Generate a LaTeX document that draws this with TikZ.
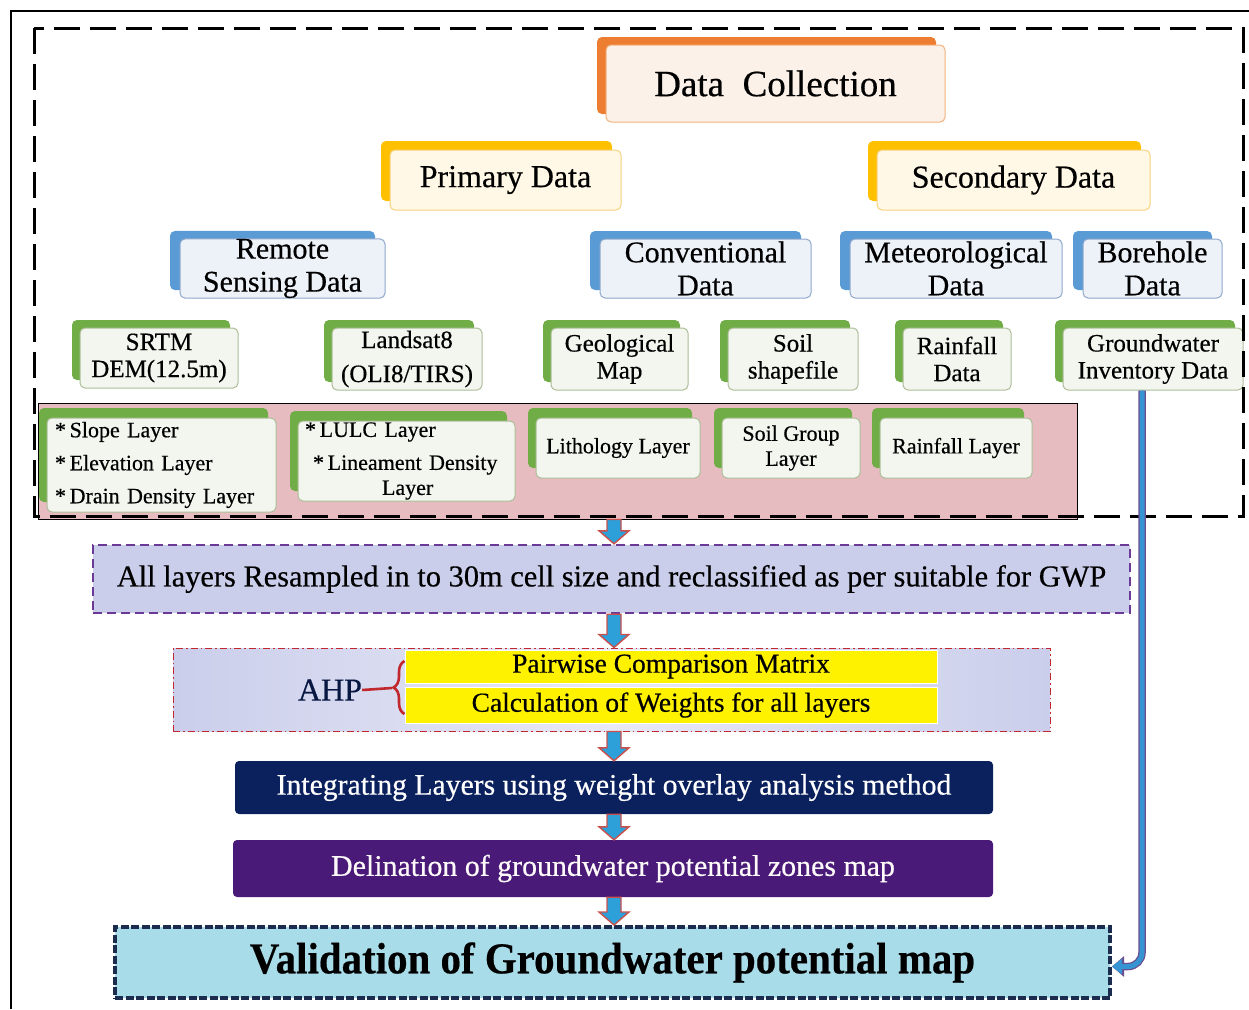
\documentclass[tikz,border=0pt]{standalone}
\usepackage{graphicx}
\usepackage{fontspec}
\setmainfont{Liberation Serif}[FakeBold=0.45]
\usetikzlibrary{shadows,backgrounds,calc,decorations.pathreplacing,arrows.meta}

% tier colours
\definecolor{backO}{HTML}{ED7D31}
\definecolor{frontO}{HTML}{FBF1E8}
\definecolor{edgeO}{HTML}{F2B27E}
\definecolor{backY}{HTML}{FFC000}
\definecolor{frontY}{HTML}{FFF8E6}
\definecolor{edgeY}{HTML}{F6D27A}
\definecolor{backB}{HTML}{5B9BD5}
\definecolor{frontB}{HTML}{EDF2F9}
\definecolor{edgeB}{HTML}{8FA8CC}
\definecolor{backG}{HTML}{70AD47}
\definecolor{frontG}{HTML}{F3F6EF}
\definecolor{edgeG}{HTML}{ABBE98}
% connector colours
\definecolor{lineY}{HTML}{FFD966}
\definecolor{lineB}{HTML}{9DC3E6}
\definecolor{lineG}{HTML}{AEC09C}
% process colours
\definecolor{pinkfill}{HTML}{E7BCC1}
\definecolor{lavender}{HTML}{CBCEEB}
\definecolor{purpleedge}{HTML}{6B3A97}
\definecolor{peach}{HTML}{F4C09A}
\definecolor{ahpred}{HTML}{C0282D}
\definecolor{navy}{HTML}{0B215E}
\definecolor{deeppurple}{HTML}{4A1A78}
\definecolor{waterfill}{HTML}{A9DCE9}
\definecolor{wateredge}{HTML}{1C2C4E}
\definecolor{arrowblue}{HTML}{2DA0DA}
\definecolor{arrowred}{HTML}{C9504B}
\definecolor{gwblue}{HTML}{3794D3}
\definecolor{gwedge}{HTML}{6A4D8F}

\newcommand\fsz[2]{\fontsize{#1}{#2}\selectfont}

% blue block arrow with red rim, running straight down between two points
\newcommand\flowarrow[2]{%
  \path[blockarrow] let \p1=(#1), \p2=(#2) in
    (\x1-7pt,\y1) -- (\x1+7pt,\y1) -- (\x1+7pt,\y2+13pt) -- (\x1+15pt,\y2+13pt)
    -- (\x1,\y2) -- (\x1-15pt,\y2+13pt) -- (\x1-7pt,\y2+13pt) -- cycle;}

\tikzset{
  boxsize/.style 2 args={minimum width=#1pt, minimum height=#2pt},
  card/.style={rounded corners=5pt, inner sep=0pt, align=center, line width=1pt, text=black},
  topbox/.style={card, fill=frontO, draw=edgeO,
    general shadow={fill=backO, shadow xshift=-9pt, shadow yshift=8pt}, font=\fsz{37}{40}},
  secbox/.style={card, fill=frontY, draw=edgeY,
    general shadow={fill=backY, shadow xshift=-9pt, shadow yshift=9pt}, font=\fsz{32}{36}},
  srcbox/.style={card, fill=frontB, draw=edgeB,
    general shadow={fill=backB, shadow xshift=-10pt, shadow yshift=8pt}, font=\fsz{30}{33}},
  itembox/.style={card, fill=frontG, draw=edgeG,
    general shadow={fill=backG, shadow xshift=-8pt, shadow yshift=8pt}, font=\fsz{25}{27}},
  layerbox/.style={card, fill=frontG, draw=edgeG,
    general shadow={fill=backG, shadow xshift=-8pt, shadow yshift=10pt}, font=\fsz{22}{25}},
  linkY/.style={draw=lineY, line width=1.6pt},
  linkB/.style={draw=lineB, line width=1.6pt},
  linkG/.style={draw=lineG, line width=1.6pt},
  blockarrow/.style={fill=arrowblue, draw=arrowred, line width=1.4pt, line join=miter},
  stepproc/.style={inner sep=0pt, align=center},
}

\begin{document}
\begin{tikzpicture}[x=1pt,y=-1pt]
\useasboundingbox (0,0) rectangle (1249,1009);
\fill[white] (0,0) rectangle (1249,1009);

% outer frame
\draw[line width=1.3pt] (11,1009) -- (11,11) -- (1249,11);

\coordinate (axis) at (614,0);

% ---------- data tree ----------
\node[topbox, boxsize={339}{77}] (dc) at (775.5,83.5) {Data\ \ Collection};

\node[secbox, boxsize={231}{60}] (pd) at (505.5,180) {Primary Data};
\node[secbox, boxsize={273}{60}] (sd) at (1013.5,180) {Secondary Data};

\node[srcbox, boxsize={205}{59}] (rs)   at (282.5,268.5) {Remote\\Sensing Data};
\node[srcbox, boxsize={211}{59}] (conv) at (705.5,268.5) {Conventional\\Data};
\node[srcbox, boxsize={212}{59}] (met)  at (956,268.5)   {Meteorological\\Data};
\node[srcbox, boxsize={139}{59}] (bh)   at (1152.5,268.5){Borehole\\Data};

\node[itembox, boxsize={158}{60}] (srtm) at (159,358)   {SRTM\\DEM(12.5m)};
\node[itembox, boxsize={150}{62}, font=\fsz{25}{34}] (ls) at (407,359) {Landsat8\\(OLI8/TIRS)};
\node[itembox, boxsize={137}{62}] (geo)  at (619.5,359) {Geological\\Map};
\node[itembox, boxsize={130}{62}] (soil) at (793,359)   {Soil\\shapefile};
\node[itembox, boxsize={108}{62}] (rfd)  at (957,359)   {Rainfall\\Data};
\node[itembox, boxsize={180}{62}] (gw)   at (1153,359)  {Groundwater\\Inventory Data};

% thematic layers panel
\node[draw=black, line width=1pt, fill=pinkfill, boxsize={1039}{116}, inner sep=0pt] (layers) at (557.5,461) {};

\node[layerbox, boxsize={229}{94}, text width=213pt, inner xsep=8pt, align=left, font=\fsz{22}{33}] (slope) at (161.5,465)
  {*\,Slope Layer\\{}*\,Elevation Layer\\{}*\,Drain Density Layer};
\node[layerbox, boxsize={217}{80}, text width=203pt, inner xsep=7pt, align=left, font=\fsz{22}{33}] (lulc) at (406.5,461)
  {*\,LULC Layer\\\hspace*{8pt}*\,Lineament Density\\[-8pt]\hspace*{77pt}Layer};
\node[layerbox, boxsize={164}{60}] (lith) at (618,448) {Lithology Layer};
\node[layerbox, boxsize={138}{60}] (sgl)  at (791,448) {Soil Group\\Layer};
\node[layerbox, boxsize={152}{60}] (rfl)  at (956,448) {Rainfall Layer};

% data collection frame
\draw[line width=3pt, dash pattern=on 26pt off 10pt] (34,28) rectangle (1243,516);

% tree connectors, behind the cards
\begin{pgfonlayer}{background}
  \draw[linkY] (dc.south) -- ++(0,8) -| (pd.north);
  \draw[linkY] (dc.south) -- ++(0,8) -| (sd.north);
  \draw[linkB] (pd.south) -- ++(0,10) -| (rs.north);
  \draw[linkB] (pd.south) -- ++(0,10) -| (conv.north);
  \draw[linkB] (sd.south) -- ++(0,10) -| (met.north);
  \draw[linkB] (sd.south) -- ++(0,10) -| (bh.north);
  \draw[linkG] (rs.south) -- ++(0,11) -| (srtm.north);
  \draw[linkG] (rs.south) -- ++(0,11) -| (ls.north);
  \draw[linkG] (conv.south) -- ++(0,11) -| (geo.north);
  \draw[linkG] (conv.south) -- ++(0,11) -| (soil.north);
  \draw[linkG] (met.south) -- (met.south |- rfd.north);
  \draw[linkG] (bh.south) -- (bh.south |- gw.north);
  \draw[linkG] (srtm.south) -- (srtm.south |- slope.north);
  \draw[linkG] (ls.south) -- (ls.south |- lulc.north);
  \draw[linkG] (geo.south) -- (geo.south |- lith.north);
  \draw[linkG] (soil.south) -- (soil.south |- sgl.north);
  \draw[linkG] (rfd.south) -- (rfd.south |- rfl.north);
\end{pgfonlayer}

% ---------- processing chain ----------
\node[stepproc, fill=lavender, boxsize={1037}{68}, font=\fsz{30.4}{33},
  preaction={draw=peach, line width=2.4pt},
  draw=purpleedge, line width=2.4pt, dash pattern=on 9pt off 5pt] (res) at (611.5,579)
  {All layers Resampled in to 30m cell size and reclassified as per suitable for GWP};

\node[stepproc, boxsize={877}{83}, left color=lavender, right color=lavender, middle color=lavender!45,
  draw=ahpred, line width=1pt, dash pattern=on 7pt off 3pt on 1.5pt off 3pt] (ahpframe) at (611.5,689.5) {};
\node[stepproc, fill=yellow, draw=white, line width=1pt, boxsize={532}{33}, font=\fsz{27.5}{28}] (pw) at (671,666.5) {Pairwise Comparison Matrix};
\node[stepproc, fill=yellow, draw=white, line width=1pt, boxsize={532}{36}, font=\fsz{27.5}{28}] (cw) at (671,705) {Calculation of Weights for all layers};
\node[stepproc, font=\fsz{32}{34}, text=navy!70!black] (ahp) at (330,690) {AHP};
\coordinate (bracetip) at (392,688);
\draw[ahpred, line width=2.6pt, decorate, decoration={brace, amplitude=11pt}] (cw.west |- 0,714) -- (pw.west |- 0,661);
\draw[ahpred, line width=2.6pt] (ahp.east) -- (bracetip);

\node[stepproc, fill=navy, rounded corners=4pt, text=white, boxsize={758}{53}, font=\fsz{29.7}{32}] (integ) at (614,787.5)
  {Integrating Layers using weight overlay analysis method};
\node[stepproc, fill=deeppurple, rounded corners=4pt, text=white!92!pink, boxsize={760}{57}, font=\fsz{29.9}{32}] (zones) at (613,868.5)
  {Delination of groundwater potential zones map};
\node[stepproc, fill=waterfill, draw=wateredge, line width=4pt, dash pattern=on 8pt off 2.5pt,
  boxsize={995}{71}, font=\fsz{44}{46}] (val) at (612.5,962.5)
  {\bfseries\scalebox{0.93}[1]{Validation of Groundwater potential map}};

% flow arrows
\flowarrow{layers.south -| axis}{res.north -| axis}
\flowarrow{res.south -| axis}{ahpframe.north -| axis}
\flowarrow{ahpframe.south -| axis}{integ.north -| axis}
\flowarrow{integ.south -| axis}{zones.north -| axis}
\flowarrow{zones.south -| axis}{val.north -| axis}

% groundwater inventory feeds the validation step
\draw[gwedge, line width=7.5pt, rounded corners=14pt, -{Triangle[length=12pt,width=20pt]}]
  ([xshift=-11pt]gw.south) |- ([yshift=-4pt]val.east);
\draw[gwblue, line width=5pt, rounded corners=14pt, -{Triangle[length=10pt,width=15pt]}]
  ([xshift=-11pt]gw.south) |- ([yshift=-4pt]val.east);
\end{tikzpicture}
\end{document}
